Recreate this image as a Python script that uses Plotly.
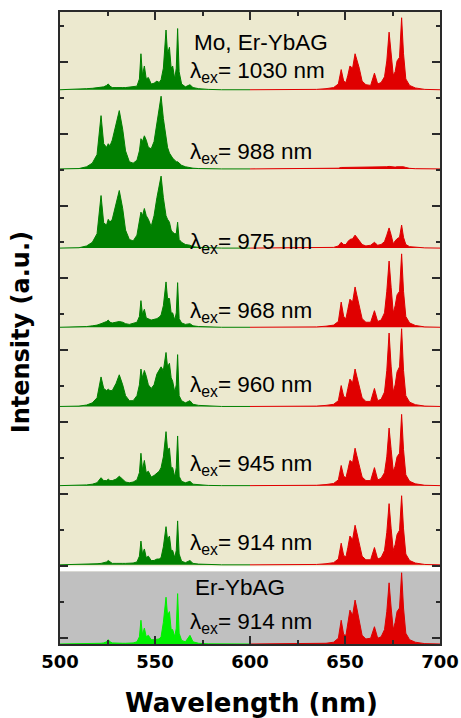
import plotly.graph_objects as go

# ---------------- data ----------------
G_WL = [500, 510, 514, 517, 519.5, 521.6, 523, 524.5, 525.4, 526.3, 527.5, 529.5, 531.2, 533, 534.5,
        536.5, 538.5, 540.5, 541.8, 542.6, 543.4, 544.4, 545.4, 546.5, 548, 549.5, 551, 552.2, 553.2,
        554.4, 555.8, 556.6, 557.6, 558.5, 559.3, 560.4, 561.2, 561.9, 562.7, 564, 566, 568.4, 570,
        573, 578, 585, 600]
R_WL = [600, 625, 635, 640, 644, 646.5, 648, 649.3, 650.5, 651.5, 652.6, 654, 655.3, 656.2, 657.5,
        659, 661, 663.5, 665.5, 667.2, 669, 670.8, 672, 673.2, 674.3, 675.4, 676.4, 677.4, 678.7,
        679.8, 680.8, 682, 684, 687, 692, 700]

# Mo, Er-YbAG, lambda_ex = 1030 nm
G_1030 = [0, 0.005, 0.015, 0.02, 0.025, 0.03, 0.04, 0.06, 0.08, 0.05, 0.03, 0.03, 0.035, 0.03, 0.03,
          0.035, 0.04, 0.05, 0.15, 0.5, 0.2, 0.33, 0.15, 0.17, 0.08, 0.09, 0.12, 0.1, 0.14,
          0.3, 0.83, 0.5, 0.59, 0.3, 0.33, 0.15, 0.3, 0.85, 0.25, 0.08, 0.04, 0.07, 0.03,
          0.015, 0.005, 0, 0]
R_1030 = [0, 0, 0.005, 0.015, 0.03, 0.08, 0.28, 0.12, 0.1, 0.2, 0.33, 0.3, 0.5, 0.42, 0.3,
          0.12, 0.07, 0.06, 0.23, 0.08, 0.1, 0.18, 0.4, 0.8, 0.5, 0.2, 0.25, 0.4, 0.45,
          1.0, 0.5, 0.15, 0.06, 0.025, 0.005, 0]
# 988 nm
G_988 = [0, 0.005, 0.03, 0.08, 0.2, 0.74, 0.35, 0.3, 0.35, 0.32, 0.4, 0.6, 0.81, 0.55, 0.25,
         0.1, 0.08, 0.12, 0.25, 0.42, 0.38, 0.46, 0.4, 0.3, 0.28, 0.38, 0.65, 0.9, 1.01,
         0.7, 0.4, 0.3, 0.22, 0.18, 0.15, 0.12, 0.1, 0.1, 0.08, 0.05, 0.03, 0.015, 0.01,
         0.005, 0, 0, 0]
R_988 = [0, 0, 0, 0, 0.003, 0.01, 0.02, 0.02, 0.02, 0.02, 0.025, 0.025, 0.03, 0.03, 0.025,
         0.02, 0.02, 0.02, 0.025, 0.02, 0.02, 0.025, 0.03, 0.035, 0.03, 0.025, 0.025, 0.03, 0.03,
         0.035, 0.03, 0.02, 0.008, 0.003, 0, 0]
# 975 nm
G_975 = [0, 0.005, 0.03, 0.08, 0.2, 0.73, 0.35, 0.32, 0.4, 0.36, 0.4, 0.6, 0.8, 0.55, 0.25,
         0.12, 0.1, 0.18, 0.35, 0.5, 0.45, 0.55, 0.45, 0.4, 0.3, 0.45, 0.7, 0.9, 1.0,
         0.7, 0.45, 0.4, 0.36, 0.25, 0.22, 0.2, 0.2, 0.36, 0.12, 0.08, 0.05, 0.04, 0.02,
         0.01, 0.005, 0, 0]
R_975 = [0, 0, 0.002, 0.005, 0.01, 0.03, 0.08, 0.05, 0.05, 0.09, 0.12, 0.13, 0.18, 0.15, 0.1,
         0.05, 0.03, 0.04, 0.08, 0.04, 0.05, 0.09, 0.18, 0.28, 0.18, 0.06, 0.1, 0.13, 0.15,
         0.32, 0.15, 0.05, 0.02, 0.01, 0.003, 0]
# 968 nm
G_968 = [0, 0.003, 0.01, 0.02, 0.03, 0.05, 0.06, 0.08, 0.1, 0.07, 0.06, 0.07, 0.08, 0.07, 0.05,
         0.04, 0.05, 0.07, 0.15, 0.37, 0.18, 0.25, 0.13, 0.12, 0.1, 0.11, 0.12, 0.14, 0.17,
         0.3, 0.63, 0.4, 0.4, 0.2, 0.2, 0.1, 0.2, 0.62, 0.12, 0.06, 0.04, 0.05, 0.02,
         0.01, 0.003, 0, 0]
R_968 = [0, 0, 0.005, 0.015, 0.03, 0.08, 0.35, 0.15, 0.12, 0.25, 0.39, 0.35, 0.56, 0.45, 0.3,
         0.12, 0.07, 0.07, 0.23, 0.08, 0.1, 0.2, 0.5, 0.92, 0.55, 0.2, 0.3, 0.45, 0.5,
         1.02, 0.5, 0.15, 0.06, 0.025, 0.005, 0]
# 960 nm
G_960 = [0, 0.005, 0.02, 0.05, 0.12, 0.41, 0.25, 0.22, 0.24, 0.22, 0.22, 0.32, 0.44, 0.3, 0.15,
         0.08, 0.08, 0.15, 0.3, 0.52, 0.4, 0.5, 0.42, 0.3, 0.25, 0.3, 0.45, 0.5, 0.55,
         0.5, 0.75, 0.55, 0.6, 0.4, 0.35, 0.2, 0.3, 0.72, 0.15, 0.08, 0.05, 0.08, 0.03,
         0.015, 0.005, 0, 0]
R_960 = [0, 0, 0.005, 0.015, 0.03, 0.08, 0.29, 0.14, 0.12, 0.25, 0.38, 0.33, 0.52, 0.42, 0.28,
         0.12, 0.07, 0.07, 0.25, 0.08, 0.1, 0.2, 0.5, 1.02, 0.55, 0.2, 0.3, 0.48, 0.55,
         1.08, 0.5, 0.15, 0.06, 0.025, 0.005, 0]
# 945 nm
G_945 = [0, 0.003, 0.01, 0.02, 0.04, 0.11, 0.07, 0.07, 0.09, 0.07, 0.07, 0.09, 0.13, 0.09, 0.05,
         0.04, 0.05, 0.08, 0.18, 0.45, 0.22, 0.35, 0.18, 0.2, 0.12, 0.14, 0.18, 0.2, 0.25,
         0.4, 0.75, 0.5, 0.52, 0.25, 0.25, 0.12, 0.25, 0.69, 0.13, 0.06, 0.04, 0.06, 0.02,
         0.01, 0.003, 0, 0]
R_945 = [0, 0, 0.005, 0.015, 0.03, 0.08, 0.28, 0.13, 0.11, 0.22, 0.35, 0.32, 0.52, 0.42, 0.28,
         0.12, 0.07, 0.07, 0.25, 0.08, 0.1, 0.18, 0.4, 0.8, 0.5, 0.2, 0.27, 0.4, 0.45,
         0.99, 0.5, 0.15, 0.06, 0.025, 0.005, 0]
# 914 nm (Mo, Er-YbAG)
G_914 = [0, 0.003, 0.008, 0.012, 0.015, 0.02, 0.025, 0.04, 0.06, 0.04, 0.02, 0.02, 0.025, 0.02, 0.02,
         0.02, 0.025, 0.04, 0.12, 0.33, 0.15, 0.22, 0.1, 0.12, 0.06, 0.06, 0.08, 0.08, 0.1,
         0.25, 0.53, 0.35, 0.4, 0.2, 0.2, 0.1, 0.2, 0.61, 0.15, 0.05, 0.03, 0.06, 0.02,
         0.01, 0.003, 0, 0]
R_914 = [0, 0, 0.005, 0.015, 0.03, 0.08, 0.3, 0.13, 0.11, 0.24, 0.4, 0.35, 0.55, 0.45, 0.3,
         0.12, 0.07, 0.07, 0.24, 0.08, 0.1, 0.2, 0.45, 0.85, 0.5, 0.2, 0.28, 0.42, 0.48,
         0.96, 0.5, 0.15, 0.06, 0.025, 0.005, 0]
# 914 nm (Er-YbAG reference)
G_REF = [0, 0, 0.003, 0.005, 0.008, 0.01, 0.015, 0.03, 0.06, 0.03, 0.015, 0.01, 0.012, 0.01, 0.01,
         0.012, 0.015, 0.03, 0.1, 0.33, 0.13, 0.22, 0.1, 0.12, 0.06, 0.06, 0.07, 0.07, 0.1,
         0.3, 0.65, 0.4, 0.45, 0.2, 0.2, 0.1, 0.22, 0.7, 0.15, 0.05, 0.03, 0.12, 0.03,
         0.01, 0.002, 0, 0]
R_REF = [0, 0, 0.003, 0.01, 0.025, 0.08, 0.33, 0.13, 0.12, 0.28, 0.47, 0.4, 0.61, 0.5, 0.3,
         0.12, 0.07, 0.08, 0.24, 0.08, 0.1, 0.2, 0.45, 0.85, 0.5, 0.2, 0.3, 0.45, 0.5,
         0.99, 0.5, 0.15, 0.06, 0.025, 0.005, 0]

# panels from bottom to top
PANEL_GREEN = [G_REF, G_914, G_945, G_960, G_968, G_975, G_988, G_1030]
PANEL_RED = [R_REF, R_914, R_945, R_960, R_968, R_975, R_988, R_1030]
EX_LABELS = ["914", "914", "945", "960", "968", "975", "988", "1030"]
SAMPLE_LABELS = ["Er-YbAG", "", "", "", "", "", "", "Mo, Er-YbAG"]

# ---------------- layout constants ----------------
STEP = 1.1
LABEL_DY = [0.29, 0.29, 0.29, 0.28, 0.21, 0.07, 0.22, 0.24]
SAMPLE_DY = [0.79, 0, 0, 0, 0, 0, 0, 0.65]
SAMPLE_X = [594.7, 0, 0, 0, 0, 0, 0, 606]

BEIGE = "#ECE9CF"
GRAY = "#C0C0C0"
DGREEN = "#008000"
LGREEN = "#00F000"
RED = "#E00000"
AXC = "#2a2a2a"

fig = go.Figure()
for i, (g, r) in enumerate(zip(PANEL_GREEN, PANEL_RED)):
    off = i * STEP
    gc = LGREEN if i == 0 else DGREEN
    fig.add_trace(go.Scatter(x=G_WL, y=[off + v for v in g], mode="lines", fill="toself",
                             fillcolor=gc, line=dict(color=gc, width=1), hoverinfo="skip",
                             showlegend=False))
    fig.add_trace(go.Scatter(x=R_WL, y=[off + v for v in r], mode="lines", fill="toself",
                             fillcolor=RED, line=dict(color=RED, width=1), hoverinfo="skip",
                             showlegend=False))

annotations = []
for i, lab in enumerate(EX_LABELS):
    off = i * STEP
    annotations.append(dict(x=567.5, y=off + LABEL_DY[i], xref="x", yref="y",
                            text="λ<sub>ex</sub>= " + lab + " nm", showarrow=False,
                            xanchor="left", yanchor="middle",
                            font=dict(family="Liberation Sans, Arial", size=22.5, color="black")))
    if SAMPLE_LABELS[i]:
        annotations.append(dict(x=SAMPLE_X[i], y=off + SAMPLE_DY[i], xref="x", yref="y",
                                text=SAMPLE_LABELS[i], showarrow=False,
                                xanchor="center", yanchor="middle",
                                font=dict(family="Liberation Sans, Arial", size=22.5, color="black")))

annotations.append(dict(x=0.503, y=-0.0934, xref="paper", yref="paper", text="Wavelength (nm)",
                        showarrow=False, xanchor="center", yanchor="middle",
                        font=dict(family="DejaVu Sans", size=26, color="black", weight="bold")))
annotations.append(dict(x=-0.104, y=0.494, xref="paper", yref="paper", text="Intensity (a.u.)",
                        showarrow=False, xanchor="center", yanchor="middle", textangle=-90,
                        font=dict(family="DejaVu Sans", size=24, color="black", weight="bold")))

shapes = [
    dict(type="rect", xref="x", yref="y", x0=500, x1=700, y0=-0.2, y1=1.01,
         fillcolor=GRAY, line=dict(width=0), layer="below"),
    dict(type="rect", xref="x", yref="y", x0=500, x1=700, y0=1.01, y1=1.08,
         fillcolor="white", line=dict(width=0), layer="below"),
]

fig.update_layout(
    width=461, height=718,
    margin=dict(l=60, r=21, t=12, b=74, autoexpand=False),
    paper_bgcolor="white", plot_bgcolor=BEIGE,
    annotations=annotations, shapes=shapes,
    showlegend=False,
)
fig.update_xaxes(range=[500, 700], tickmode="linear", tick0=500, dtick=50, automargin=False,
                 ticks="inside", ticklen=8, tickwidth=2, tickcolor=AXC,
                 minor=dict(dtick=25, tick0=500, ticks="inside", ticklen=4, tickwidth=2, tickcolor=AXC),
                 showline=True, linecolor=AXC, linewidth=2, mirror="allticks",
                 showgrid=False, zeroline=False,
                 tickfont=dict(family="DejaVu Sans", size=18, color="black", weight="bold"))
fig.update_yaxes(range=[0, 8.78], tickmode="linear", tick0=0.083, dtick=1, automargin=False,
                 ticks="inside", ticklen=8, tickwidth=2, tickcolor=AXC,
                 minor=dict(dtick=1, tick0=0.583, ticks="inside", ticklen=4, tickwidth=2, tickcolor=AXC),
                 showline=True, linecolor=AXC, linewidth=2, mirror="allticks",
                 showgrid=False, zeroline=False, showticklabels=False)

fig.write_html("out.html")
